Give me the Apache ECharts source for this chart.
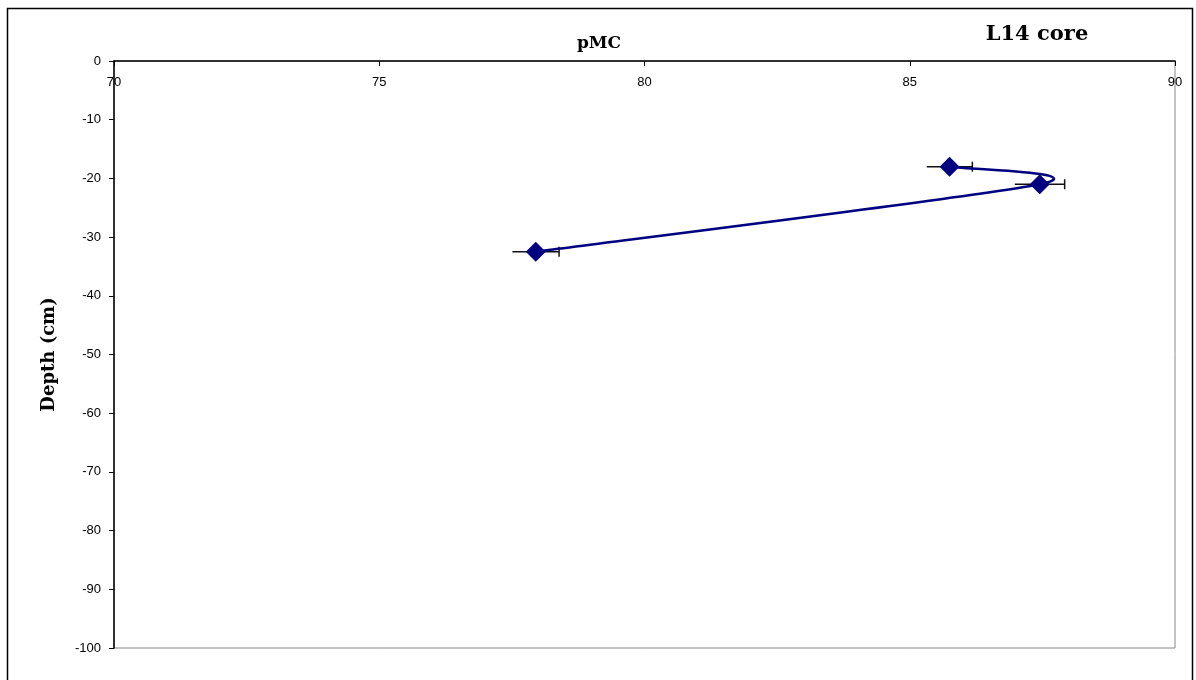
<!DOCTYPE html>
<html><head><meta charset="utf-8">
<script src="https://cdn.jsdelivr.net/npm/echarts@6/dist/echarts.min.js"></script>
<style>html,body{margin:0;padding:0;background:#fff}#c{width:1196px;height:680px}</style>
</head><body><div id="c"></div>
<script>
const pmc = [85.75, 87.45, 77.95];
const depth = [-18, -21, -32.5];
const pmcErr = [0.43, 0.47, 0.44];
const xTicks = [70, 75, 80, 85, 90];
const yTicks = [0, -10, -20, -30, -40, -50, -60, -70, -80, -90, -100];

const pts = pmc.map((v, i) => [v, depth[i]]);
const errData = pmc.map((v, i) => [v - pmcErr[i], v + pmcErr[i], depth[i]]);
const segData = pts.slice(0, -1).map((p, i) => [i]);
const serif = '"DejaVu Serif", "Liberation Serif", serif';
const sans = '"Liberation Sans", Arial, sans-serif';
const chart = echarts.init(document.getElementById('c'));
chart.setOption({
  animation: false,
  graphic: [{type: 'rect', shape: {x: 7.5, y: 8.5, width: 1185, height: 700}, style: {fill: 'none', stroke: '#000', lineWidth: 1.5}, z: -1}],
  title: [
    {text: 'pMC', left: 594, top: 30, textAlign: 'center', textStyle: {fontFamily: serif, fontWeight: 'bold', fontSize: 17, color: '#000'}},
    {text: 'L14 core', left: 1032, top: 19, textAlign: 'center', textStyle: {fontFamily: serif, fontWeight: 'bold', fontSize: 21, color: '#000'}}
  ],
  grid: {left: 114, right: 21, top: 61, bottom: 32, show: true, borderColor: '#888', borderWidth: 1},
  xAxis: {
    type: 'value', position: 'top', min: xTicks[0], max: xTicks[xTicks.length - 1], interval: 5,
    axisLine: {lineStyle: {color: '#000', width: 1.5}},
    axisTick: {inside: true, length: 5, lineStyle: {color: '#000'}},
    axisLabel: {inside: true, margin: 15, color: '#000', fontSize: 13, fontFamily: sans,
      formatter: v => xTicks.includes(v) ? String(v) : ''},
    splitLine: {show: false}
  },
  yAxis: {
    type: 'value', min: -100, max: 0, interval: 10,
    name: 'Depth (cm)', nameLocation: 'middle', nameGap: 56, nameRotate: 90,
    nameTextStyle: {fontFamily: serif, fontWeight: 'bold', fontSize: 18, color: '#000'},
    axisLine: {lineStyle: {color: '#000', width: 1.5}},
    axisTick: {length: 5, lineStyle: {color: '#000'}},
    axisLabel: {margin: 13, color: '#000', fontSize: 13, fontFamily: sans,
      formatter: v => yTicks.includes(v) ? String(v) : ''},
    splitLine: {show: false}
  },
  series: [
    {
      type: 'custom', data: errData, z: 1,
      renderItem: (params, api) => {
        const a = api.coord([api.value(0), api.value(2)]);
        const b = api.coord([api.value(1), api.value(2)]);
        const s = {stroke: '#111', lineWidth: 1.5};
        return {type: 'group', children: [
          {type: 'line', shape: {x1: a[0], y1: a[1], x2: b[0], y2: b[1]}, style: s},
          {type: 'line', shape: {x1: b[0], y1: b[1] - 5, x2: b[0], y2: b[1] + 5}, style: s}
        ]};
      }
    },
    {
      type: 'custom', data: segData, z: 2,
      renderItem: (params, api) => {
        const i = api.value(0);
        const n = pts.length;
        const t = 0.14;
        const c = k => api.coord(pts[Math.max(0, Math.min(n - 1, k))]);
        const p0 = c(i - 1), p1 = c(i), p2 = c(i + 1), p3 = c(i + 2);
        const cp1 = [p1[0] + (p2[0] - p0[0]) * t, p1[1] + (p2[1] - p0[1]) * t];
        const cp2 = [p2[0] - (p3[0] - p1[0]) * t, p2[1] - (p3[1] - p1[1]) * t];
        return {type: 'bezierCurve', shape: {x1: p1[0], y1: p1[1], x2: p2[0], y2: p2[1],
          cpx1: cp1[0], cpy1: cp1[1], cpx2: cp2[0], cpy2: cp2[1]},
          style: {stroke: '#000080', lineWidth: 2.5, fill: null}};
      }
    },
    {
      type: 'scatter', data: pts, z: 3,
      symbol: 'diamond', symbolSize: 20,
      itemStyle: {color: '#000080', opacity: 1}
    }
  ]
});
</script></body></html>
